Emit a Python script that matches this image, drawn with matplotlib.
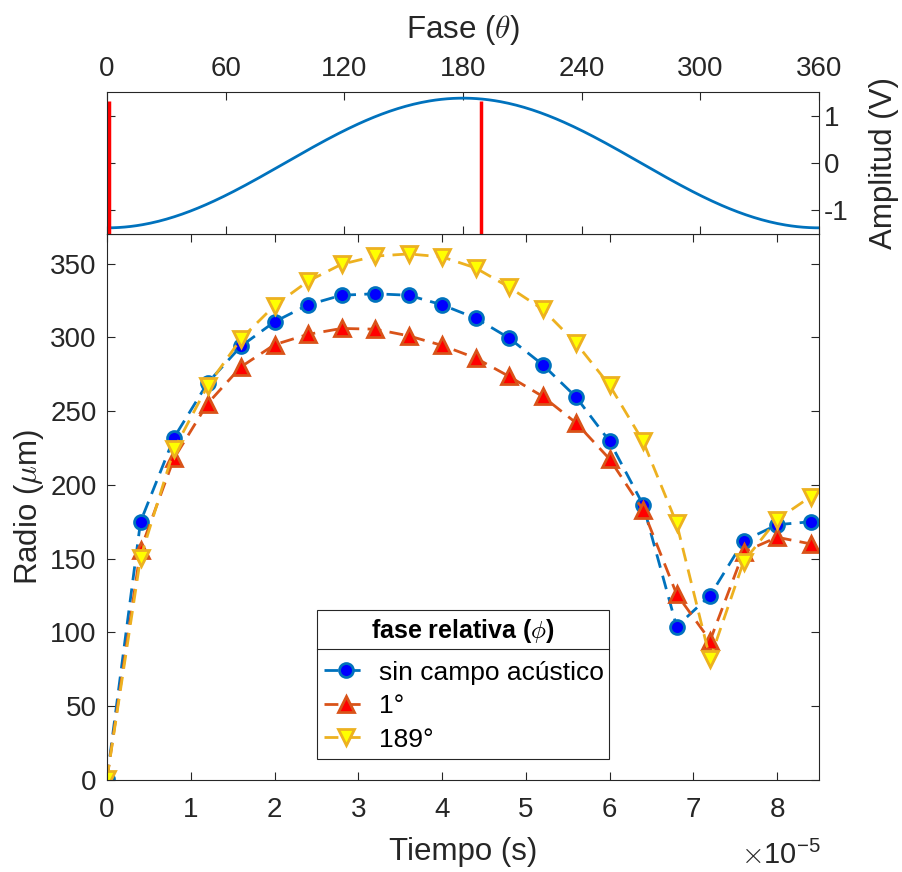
import numpy as np
import matplotlib
matplotlib.use("Agg")
import matplotlib.pyplot as plt
from matplotlib.lines import Line2D
from matplotlib.ticker import FuncFormatter

plt.rcParams['font.family'] = ['Liberation Sans', 'DejaVu Sans']
plt.rcParams['mathtext.fontset'] = 'cm'
plt.rcParams['axes.unicode_minus'] = False

# ---- data ----
tiempo_e5 = [0, 0.4, 0.8, 1.2, 1.6, 2.0, 2.4, 2.8, 3.2, 3.6, 4.0, 4.4,
             4.8, 5.2, 5.6, 6.0, 6.4, 6.8, 7.2, 7.6, 8.0, 8.4]
radio_sin = [1, 175, 232, 269, 294, 310.5, 322, 328.5, 329.5, 328.5, 322, 313,
             299.5, 281.5, 259.5, 229.5, 186.5, 104, 125, 162, 173, 175]
radio_1 = [1, 156, 218, 255, 280, 295, 302, 306, 305.5, 301, 294.5, 286,
           273.5, 260, 242, 217.5, 183, 126, 94.5, 154.5, 164.5, 160]
radio_189 = [1, 150.5, 224, 267, 299, 321.5, 338, 349.5, 355, 356.5, 354.5, 347,
             334, 319, 296, 267.5, 229.5, 174, 82, 148, 176.5, 192]
leyenda = ['sin campo acústico', '1°', '189°']
fases_rel = [1, 189]
amplitud = 1.37
fase_ticks = [0, 60, 120, 180, 240, 300, 360]
amp_ticks = [-1, 0, 1]
radio_ticks = [0, 50, 100, 150, 200, 250, 300, 350]
tiempo_ticks = [0, 1, 2, 3, 4, 5, 6, 7, 8]

t = np.array(tiempo_e5) * 1e-5

C_BLUE = '#0072BD'
C_RED = '#D95319'
C_YEL = '#EDB120'
GRAY = '#262626'
TICK_FS = 20
LAB_FS = 22.5

fig = plt.figure(figsize=(9.03, 8.72), dpi=100)
L, W = 107/903, 712/903
ax = fig.add_axes([L, 1-780/872, W, 546/872])
axt = fig.add_axes([L, 1-234/872, W, 142/872])

def style(a):
    for s in a.spines.values():
        s.set_color(GRAY)
        s.set_linewidth(0.8)
    a.tick_params(direction='in', length=6, width=0.8, color=GRAY,
                  labelcolor=GRAY, labelsize=TICK_FS, top=True, right=True,
                  bottom=True, left=True)

# ---- main axes ----
style(ax)
ax.tick_params(axis='x', pad=12)
ax.tick_params(axis='y', pad=7.5)
ax.plot(t, radio_sin, '--', color=C_BLUE, lw=2, marker='o', ms=10,
        mfc='#0000FF', mec=C_BLUE, mew=2, label=leyenda[0], dashes=(5, 3))
ax.plot(t, radio_1, '--', color=C_RED, lw=2, marker='^', ms=12,
        mfc='#FF0000', mec=C_RED, mew=2, label=leyenda[1], dashes=(5, 3))
ax.plot(t, radio_189, '--', color=C_YEL, lw=2, marker='v', ms=12,
        mfc='#FFFF00', mec=C_YEL, mew=2, label=leyenda[2], dashes=(5, 3))
ax.set_xlim(0, 8.5e-5)
ax.set_ylim(0, 370)
ax.set_xticks(np.array(tiempo_ticks) * 1e-5)
ax.xaxis.set_major_formatter(FuncFormatter(lambda v, p: f"{v*1e5:g}"))
ax.set_yticks(radio_ticks)
ax.set_xlabel('Tiempo (s)', fontsize=LAB_FS, color=GRAY, labelpad=10)
ax.set_ylabel(r'Radio ($\mu$m)', fontsize=LAB_FS, color=GRAY, labelpad=3)
ax.text(1.003, -0.112, r'$\times\mathregular{10^{-5}}$', transform=ax.transAxes,
        ha='right', va='top', fontsize=21, color=GRAY)

leg = ax.legend(loc='upper left', bbox_to_anchor=(0.295, 0.035, 0.41, 0.2764),
                mode='expand', fontsize=19, title=r'fase relativa ($\phi$)',
                title_fontproperties={'weight': 'bold', 'size': 18},
                fancybox=False, edgecolor=GRAY, framealpha=1,
                handlelength=1.6, handletextpad=0.45, borderpad=0.28,
                labelspacing=0.36, borderaxespad=0)
leg.get_frame().set_linewidth(0.8)
leg._legend_box.sep = 11
fig.add_artist(Line2D([317/903, 609/903], [1-649/872, 1-649/872],
                      color=GRAY, lw=0.8, transform=fig.transFigure))

# ---- top axes ----
style(axt)
axt.tick_params(axis='x', pad=7)
theta = np.linspace(0, 360, 361)
axt.plot(theta, -amplitud*np.cos(np.deg2rad(theta)), color=C_BLUE, lw=2)
axt.vlines(fases_rel, -1.5, 1.3, color='#FF0000', lw=2.5)
axt.set_xlim(0, 360)
axt.set_ylim(-1.5, 1.5)
axt.set_xticks(fase_ticks)
axt.set_yticks(amp_ticks)
axt.tick_params(labelbottom=False, labelleft=False, labeltop=True, labelright=True)
axt.xaxis.set_label_position('top')
axt.yaxis.set_label_position('right')
axt.set_xlabel(r'Fase ($\theta$)', fontsize=LAB_FS, color=GRAY, labelpad=13)
axt.set_ylabel('Amplitud (V)', fontsize=LAB_FS, color=GRAY, labelpad=15)

fig.savefig('out.png', dpi=100)
